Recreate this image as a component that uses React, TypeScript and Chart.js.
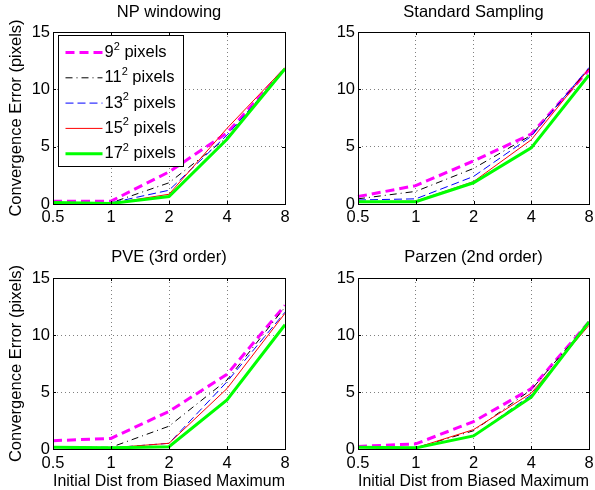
import React, { useEffect, useRef } from "react";
import { Chart, registerables } from "chart.js";
Chart.register(...registerables);

const xLabels = ["0.5", "1", "2", "4", "8"];
const yMin = 0;
const yMax = 15;
const yStep = 5;
const sizeNames = ["9", "11", "13", "15", "17"];
const yAxisTitle = "Convergence Error (pixels)";
const xAxisTitle = "Initial Dist from Biased Maximum";

// NP windowing
const npWin9 = [0.25, 0.25, 2.8, 6.2, 11.8];
const npWin11 = [0.12, 0.1, 1.85, 5.8, 11.8];
const npWin13 = [0.12, 0.1, 1.2, 6.0, 11.8];
const npWin15 = [0.12, 0.05, 0.85, 6.6, 11.9];
const npWin17 = [0.12, 0.05, 0.65, 5.65, 11.8];

// Standard Sampling
const std9 = [0.65, 1.6, 3.75, 6.1, 11.7];
const std11 = [0.45, 1.1, 3.1, 6.0, 11.8];
const std13 = [0.35, 0.45, 2.4, 5.9, 11.9];
const std15 = [0.2, 0.25, 1.95, 5.6, 11.8];
const std17 = [0.2, 0.2, 1.85, 4.9, 11.25];

// PVE (3rd order)
const pve9 = [0.73, 0.93, 3.3, 6.55, 12.6];
const pve11 = [0.15, 0.15, 2.0, 6.05, 12.45];
const pve13 = [0.15, 0.1, 0.5, 5.9, 12.0];
const pve15 = [0.15, 0.1, 0.5, 5.3, 11.9];
const pve17 = [0.15, 0.1, 0.2, 4.3, 10.9];

// Parzen (2nd order)
const parzen9 = [0.23, 0.45, 2.4, 5.3, 11.15];
const parzen11 = [0.15, 0.1, 1.6, 5.2, 11.1];
const parzen13 = [0.15, 0.1, 1.15, 4.75, 11.0];
const parzen15 = [0.15, 0.1, 1.7, 4.9, 10.85];
const parzen17 = [0.15, 0.1, 1.15, 4.55, 11.15];

const FONT = "'Liberation Sans', Arial, Helvetica, sans-serif";
const FS = 16.5;

const seriesStyles = [
  { color: "#FF00FF", width: 3, dash: [9, 5] },
  { color: "#000000", width: 1, dash: [7, 4, 1, 4] },
  { color: "#0000FF", width: 1, dash: [8, 4] },
  { color: "#FF0000", width: 1, dash: [] as number[] },
  { color: "#00FF00", width: 3, dash: [] as number[] },
];

const boxPlugin = {
  id: "boxFrame",
  afterDatasetsDraw(chart: any) {
    const { ctx, chartArea: a, scales } = chart;
    const xs = scales.x;
    const ys = scales.y;
    ctx.save();
    ctx.strokeStyle = "#000";
    ctx.lineWidth = 1;
    ctx.setLineDash([]);
    ctx.beginPath();
    xs.ticks.forEach((_: any, i: number) => {
      const px = Math.round(xs.getPixelForTick(i)) + 0.5;
      ctx.moveTo(px, a.bottom);
      ctx.lineTo(px, a.bottom - 3);
      ctx.moveTo(px, a.top);
      ctx.lineTo(px, a.top + 3);
    });
    ys.ticks.forEach((_: any, i: number) => {
      const py = Math.round(ys.getPixelForTick(i)) + 0.5;
      ctx.moveTo(a.left, py);
      ctx.lineTo(a.left + 3, py);
      ctx.moveTo(a.right, py);
      ctx.lineTo(a.right - 3, py);
    });
    ctx.stroke();
    ctx.strokeRect(
      Math.round(a.left) + 0.5,
      Math.round(a.top) + 0.5,
      Math.round(a.right) - Math.round(a.left),
      Math.round(a.bottom) - Math.round(a.top)
    );
    ctx.restore();
  },
};

const legendPlugin = {
  id: "innerLegend",
  afterDraw(chart: any) {
    const opts = chart.options.plugins.innerLegend;
    if (!opts || !opts.show) return;
    const { ctx, chartArea: a } = chart;
    const bx = Math.round(a.left + 5) + 0.5;
    const by = Math.round(a.top + 3) + 0.5;
    const bw = 125;
    const bh = 131;
    ctx.save();
    ctx.fillStyle = "#fff";
    ctx.fillRect(bx, by, bw, bh);
    ctx.strokeStyle = "#000";
    ctx.lineWidth = 1;
    ctx.setLineDash([]);
    ctx.strokeRect(bx, by, bw, bh);
    chart.data.datasets.forEach((ds: any, i: number) => {
      const y = by + 17 + i * 25.3;
      ctx.beginPath();
      ctx.strokeStyle = ds.borderColor;
      ctx.lineWidth = ds.borderWidth;
      ctx.setLineDash(ds.borderDash || []);
      ctx.moveTo(bx + 7, y);
      ctx.lineTo(bx + 44, y);
      ctx.stroke();
      ctx.setLineDash([]);
      ctx.fillStyle = "#000";
      ctx.textBaseline = "middle";
      ctx.textAlign = "left";
      ctx.font = `${FS}px ${FONT}`;
      let tx = bx + 46;
      const base = sizeNames[i];
      ctx.fillText(base, tx, y);
      tx += ctx.measureText(base).width;
      ctx.font = `11px ${FONT}`;
      ctx.fillText("2", tx, y - 6);
      tx += ctx.measureText("2").width;
      ctx.font = `${FS}px ${FONT}`;
      ctx.fillText(" pixels", tx, y);
    });
    ctx.restore();
  },
};

type PanelCfg = {
  x: number;
  y: number;
  w: number;
  h: number;
  left: number;
  right: number;
  top: number;
  bottom: number;
  title: string;
  series: number[][];
  yTitle: boolean;
  xTitle: boolean;
  legend: boolean;
  tickPad: number;
};

const panels: PanelCfg[] = [
  { x: 0, y: 0, w: 297, h: 245, left: 53, right: 285, top: 32, bottom: 204, title: "NP windowing",
    series: [npWin9, npWin11, npWin13, npWin15, npWin17], yTitle: true, xTitle: false, legend: true, tickPad: 5.3 },
  { x: 297, y: 0, w: 298, h: 245, left: 61, right: 292, top: 32, bottom: 204, title: "Standard Sampling",
    series: [std9, std11, std13, std15, std17], yTitle: false, xTitle: false, legend: false, tickPad: 5.3 },
  { x: 0, y: 245, w: 297, h: 245, left: 53, right: 285, top: 33, bottom: 204, title: "PVE (3rd order)",
    series: [pve9, pve11, pve13, pve15, pve17], yTitle: true, xTitle: true, legend: false, tickPad: 6.5 },
  { x: 297, y: 245, w: 298, h: 245, left: 61, right: 292, top: 33, bottom: 204, title: "Parzen (2nd order)",
    series: [parzen9, parzen11, parzen13, parzen15, parzen17], yTitle: false, xTitle: true, legend: false, tickPad: 6.5 },
];

function Panel({ cfg }: { cfg: PanelCfg }) {
  const ref = useRef<HTMLCanvasElement | null>(null);
  useEffect(() => {
    if (!ref.current) return;
    const titlePadTop = 4.5;
    const titlePadBottom = cfg.top - FS - titlePadTop;
    const datasets = cfg.series.map((vals, i) => ({
      label: sizeNames[i] + "² pixels",
      data: vals,
      borderColor: seriesStyles[i].color,
      backgroundColor: seriesStyles[i].color,
      borderWidth: seriesStyles[i].width,
      borderDash: seriesStyles[i].dash,
      pointRadius: 0,
      pointHoverRadius: 0,
      fill: false,
      tension: 0,
      order: 4 - i,
    }));
    const chart = new Chart(ref.current, {
      type: "line",
      data: { labels: xLabels, datasets },
      options: {
        animation: false,
        responsive: false,
        maintainAspectRatio: false,
        events: [],
        layout: { padding: { left: 0, top: 0, right: cfg.w - cfg.right, bottom: 0 } },
        plugins: {
          legend: { display: false },
          tooltip: { enabled: false },
          title: {
            display: true,
            text: cfg.title,
            fullSize: false,
            color: "#000",
            font: { family: FONT, size: FS, weight: "normal", lineHeight: 1 },
            padding: { top: titlePadTop, bottom: titlePadBottom },
          },
          innerLegend: { show: cfg.legend },
        } as any,
        scales: {
          x: {
            type: "category",
            offset: false,
            grid: { display: true, color: "#808080", lineWidth: 1, drawTicks: false, tickLength: 0 },
            border: { display: false, dash: [1, 3] },
            ticks: {
              color: "#000",
              padding: cfg.tickPad,
              maxRotation: 0,
              autoSkip: false,
              font: { family: FONT, size: FS, lineHeight: 1 },
            },
            title: {
              display: cfg.xTitle,
              text: xAxisTitle,
              color: "#000",
              font: { family: FONT, size: FS, lineHeight: 1 },
              padding: { top: 0, bottom: 0.75 },
            },
            afterFit: (s: any) => {
              s.height = cfg.h - cfg.bottom;
              s.paddingLeft = 0;
              s.paddingRight = 0;
            },
          },
          y: {
            type: "linear",
            min: yMin,
            max: yMax,
            grid: { display: true, color: "#808080", lineWidth: 1, drawTicks: false, tickLength: 0 },
            border: { display: false, dash: [1, 3] },
            ticks: {
              stepSize: yStep,
              color: "#000",
              padding: 3,
              font: { family: FONT, size: FS, lineHeight: 1 },
            },
            title: {
              display: cfg.yTitle,
              text: yAxisTitle,
              color: "#000",
              font: { family: FONT, size: FS, lineHeight: 1 },
              padding: { top: 7.75, bottom: 0 },
            },
            afterFit: (s: any) => {
              s.width = cfg.left;
              s.paddingTop = 0;
              s.paddingBottom = 0;
            },
          },
        },
      } as any,
      plugins: [boxPlugin, legendPlugin],
    });
    return () => chart.destroy();
  }, []);
  return (
    <canvas
      ref={ref}
      width={cfg.w}
      height={cfg.h}
      style={{ position: "absolute", left: cfg.x, top: cfg.y, width: cfg.w, height: cfg.h }}
    />
  );
}

export default function App() {
  return (
    <div style={{ position: "absolute", left: 0, top: 0, width: 595, height: 490, background: "#fff" }}>
      {panels.map((p, i) => (
        <Panel key={i} cfg={p} />
      ))}
    </div>
  );
}
